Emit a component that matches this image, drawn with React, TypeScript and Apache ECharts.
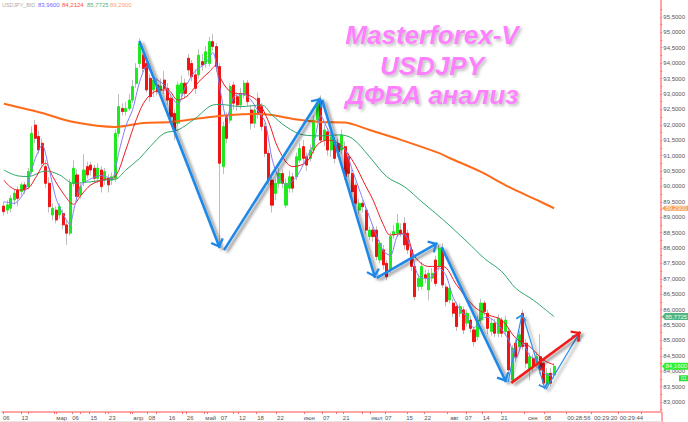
import React, { useEffect, useRef } from "react";
import * as echarts from "echarts";

const opens = [
  89.36, 89.23, 89.29, 89.56, 89.88, 89.83, 90.05, 89.99, 90.48, 91.99,
  91.62, 91.40, 90.64, 90.10, 89.07, 89.23, 89.07, 89.12, 88.75, 88.48,
  90.10, 90.37, 89.72, 90.15, 90.64, 90.69, 90.59, 90.26, 90.53, 90.20,
  90.26, 90.20, 90.26, 91.72, 92.53, 92.43, 92.53, 92.80, 93.34, 93.99,
  94.26, 93.99, 93.51, 93.13, 93.29, 93.13, 93.45, 93.18, 92.86, 92.37,
  92.05, 93.02, 93.35, 94.16, 93.99, 93.62, 93.62, 94.05, 93.99, 93.99,
  94.70, 94.54, 93.89, 90.64, 92.26, 92.15, 93.29, 92.91, 92.64, 92.96,
  93.35, 92.48, 92.05, 92.86, 92.59, 91.94, 91.07, 90.20, 89.77, 90.10,
  90.42, 89.39, 89.94, 90.31, 90.31, 90.85, 91.29, 90.96, 90.91, 91.18,
  92.15, 92.80, 91.50, 91.77, 91.18, 91.45, 91.39, 91.18, 91.29, 90.96,
  90.42, 90.04, 89.23, 89.45, 89.23, 88.37, 88.58, 88.58, 87.61, 87.94,
  87.50, 87.30, 88.42, 88.48, 88.58, 88.80, 88.48, 87.94, 87.40, 86.75,
  86.75, 87.13, 86.64, 87.02, 87.61, 87.40, 87.99, 86.73, 86.31, 86.21,
  86.10, 85.88, 85.99, 85.56, 85.66, 85.34, 85.12, 85.66, 86.21, 85.88,
  85.29, 85.56, 85.23, 85.66, 85.29, 85.29, 83.72, 84.91, 84.80, 85.88,
  84.91, 84.04, 84.42, 84.26, 84.47, 84.26, 83.56, 83.93, 83.88,
];
const closes = [
  89.18, 89.40, 89.61, 89.78, 89.61, 90.05, 89.88, 90.48, 91.72, 91.56,
  91.18, 90.75, 90.10, 89.34, 89.29, 88.91, 89.34, 88.75, 88.48, 90.10,
  90.59, 89.67, 89.99, 90.53, 90.37, 90.53, 90.26, 90.59, 89.99, 90.48,
  90.05, 90.31, 91.72, 92.59, 92.43, 92.53, 92.80, 93.24, 93.83, 94.64,
  93.83, 93.13, 92.91, 93.45, 93.07, 93.26, 93.18, 92.80, 92.26, 91.78,
  93.29, 93.35, 93.02, 93.78, 93.56, 93.18, 94.26, 93.94, 94.37, 94.70,
  94.54, 93.89, 90.75, 91.94, 91.56, 93.24, 92.70, 92.64, 93.02, 93.35,
  92.75, 92.05, 92.48, 92.37, 91.94, 91.07, 90.20, 89.39, 90.10, 90.42,
  90.10, 90.10, 90.31, 89.94, 90.96, 91.23, 90.91, 90.69, 91.18, 92.15,
  92.70, 91.50, 91.83, 91.18, 91.61, 90.91, 91.12, 91.67, 90.31, 90.42,
  89.83, 89.45, 89.45, 89.34, 88.58, 88.58, 88.37, 87.72, 88.15, 87.45,
  87.07, 88.37, 88.53, 88.80, 88.48, 88.10, 87.94, 87.40, 86.42, 87.02,
  87.40, 87.02, 87.18, 87.18, 86.85, 87.99, 86.80, 86.26, 86.69, 85.88,
  85.45, 86.10, 85.34, 85.88, 85.39, 84.96, 85.66, 86.21, 85.94, 85.39,
  85.56, 85.23, 85.72, 85.23, 85.66, 84.04, 84.75, 84.47, 85.18, 84.80,
  84.26, 84.47, 84.15, 84.47, 84.04, 83.61, 83.93, 83.61, 84.16,
];
const lows = [
  89.05, 89.10, 89.15, 89.40, 89.35, 89.70, 89.75, 89.90, 90.40, 91.40,
  91.05, 90.65, 89.95, 89.15, 88.90, 88.80, 88.95, 88.60, 88.10, 88.40,
  90.00, 89.55, 89.60, 90.00, 90.25, 90.35, 90.10, 90.10, 89.80, 90.05,
  89.80, 90.05, 90.15, 91.60, 92.30, 92.30, 92.45, 92.70, 93.20, 93.85,
  93.70, 93.05, 92.75, 92.90, 92.95, 92.95, 93.00, 92.65, 92.10, 91.50,
  91.95, 92.90, 92.85, 93.60, 93.40, 93.00, 93.50, 93.75, 93.85, 93.90,
  94.40, 93.70, 88.10, 90.40, 91.40, 92.05, 92.50, 92.45, 92.50, 92.85,
  92.60, 91.85, 91.90, 92.20, 91.80, 90.95, 90.05, 89.15, 89.55, 89.95,
  89.95, 89.30, 89.80, 89.80, 90.20, 90.75, 90.75, 90.50, 90.80, 91.05,
  92.05, 91.40, 91.30, 91.00, 90.95, 90.75, 90.95, 91.05, 90.20, 90.30,
  89.70, 89.30, 89.10, 89.15, 88.45, 88.25, 88.20, 87.60, 87.50, 87.30,
  86.95, 87.20, 88.30, 88.35, 88.35, 87.95, 87.80, 87.25, 86.30, 86.60,
  86.65, 86.85, 86.30, 86.90, 86.75, 87.25, 86.70, 86.10, 86.20, 85.75,
  85.30, 85.75, 85.20, 85.45, 85.25, 84.80, 85.00, 85.55, 85.80, 85.20,
  85.15, 85.10, 85.10, 85.10, 85.15, 83.90, 83.65, 84.30, 84.65, 84.70,
  84.10, 83.70, 84.00, 84.10, 83.90, 83.50, 83.40, 83.50, 83.75,
];
const highs = [
  89.50, 89.55, 89.72, 89.90, 90.00, 90.12, 90.15, 90.60, 91.95, 92.15,
  91.80, 91.55, 90.85, 90.30, 89.45, 89.35, 89.45, 89.25, 88.90, 90.25,
  90.85, 90.55, 90.10, 91.05, 90.80, 90.80, 90.70, 90.75, 90.65, 90.60,
  90.40, 90.45, 91.85, 93.00, 92.70, 92.75, 93.00, 93.45, 94.00, 94.80,
  94.40, 94.15, 93.65, 93.60, 93.45, 93.50, 93.75, 93.35, 93.00, 92.50,
  93.40, 93.60, 93.50, 94.30, 94.10, 93.80, 94.45, 94.30, 94.55, 94.85,
  94.95, 94.65, 94.00, 92.10, 92.40, 93.35, 93.40, 93.05, 93.20, 93.45,
  93.45, 92.65, 92.65, 93.05, 92.70, 92.05, 91.20, 90.35, 90.25, 90.60,
  90.55, 90.25, 90.50, 90.45, 91.10, 91.40, 91.50, 91.10, 91.35, 92.30,
  92.85, 92.95, 92.00, 91.90, 91.75, 91.60, 91.55, 91.85, 91.45, 91.10,
  90.55, 90.15, 89.60, 89.55, 89.35, 88.70, 88.70, 88.70, 88.25, 88.10,
  87.60, 88.50, 88.75, 89.10, 88.80, 89.00, 88.60, 88.05, 87.50, 87.15,
  87.55, 87.30, 87.30, 87.35, 87.75, 88.10, 88.15, 86.85, 86.80, 86.35,
  86.25, 86.20, 86.10, 86.00, 85.80, 85.45, 85.80, 86.35, 86.30, 86.00,
  85.70, 85.70, 85.85, 85.75, 85.80, 85.40, 84.85, 85.05, 85.30, 86.00,
  85.05, 84.60, 84.55, 84.60, 85.20, 84.40, 84.10, 84.10, 84.25,
];

const orangeBars = [0, 11, 20, 32, 40, 48, 57, 65, 74, 83, 91, 98, 105, 114, 125, 128, 137, 145, 153, 158];
const orangeValues = [92.68, 92.38, 92.09, 91.93, 92.06, 92.09, 92.22, 92.32, 92.35, 92.19, 92.09, 92.07, 91.83, 91.51, 91.08, 90.92, 90.47, 89.98, 89.56, 89.29];

const greenBars = [0, 4, 7, 12, 16, 20, 25, 29, 32, 35, 39, 42, 46, 50, 55, 60, 62, 68, 74, 77, 81, 86, 91, 96, 100, 105, 110, 115, 120, 126, 133, 138, 143, 147, 152, 158];
const greenValues = [90.53, 90.34, 90.32, 90.50, 90.37, 90.10, 90.15, 90.21, 90.23, 90.53, 90.91, 91.29, 91.72, 91.83, 92.21, 92.64, 92.66, 92.59, 92.64, 92.32, 91.94, 91.67, 91.64, 91.67, 91.56, 90.96, 90.31, 89.99, 89.50, 88.93, 88.20, 87.66, 87.23, 86.69, 86.31, 85.77];

const redBars = [0, 2, 4, 7, 9, 12, 14, 17, 20, 22, 25, 29, 32, 35, 38, 41, 45, 47, 50, 53, 56, 59, 61, 62, 65, 70, 73, 76, 79, 83, 87, 90, 93, 96, 100, 104, 106, 109, 111, 115, 118, 122, 126, 130, 135, 139, 143, 147, 151, 155, 158];
const redValues = [90.20, 89.97, 89.88, 89.94, 90.26, 90.75, 90.32, 89.78, 89.42, 89.69, 90.05, 90.23, 90.32, 91.18, 92.16, 92.85, 93.13, 93.13, 92.80, 92.97, 93.40, 93.72, 93.94, 93.56, 93.08, 92.97, 92.75, 92.10, 91.18, 90.64, 90.80, 91.35, 91.50, 91.40, 90.86, 89.99, 89.56, 88.75, 88.42, 88.48, 87.72, 87.40, 87.40, 86.80, 86.10, 85.83, 85.66, 85.07, 84.80, 84.36, 84.21];

const blueBars = [0, 3, 6, 9, 11, 13, 15, 17, 19, 20, 22, 25, 28, 31, 33, 35, 37, 39, 41, 43, 46, 48, 50, 52, 55, 58, 60, 62, 64, 66, 69, 71, 73, 75, 77, 79, 81, 84, 87, 89, 91, 93, 96, 98, 100, 103, 105, 107, 109, 111, 113, 115, 117, 119, 122, 125, 127, 129, 131, 133, 135, 137, 139, 142, 145, 147, 149, 151, 153, 155, 157, 158];
const blueValues = [89.50, 89.45, 89.85, 90.90, 91.35, 90.55, 89.60, 89.10, 88.75, 89.20, 90.00, 90.25, 90.35, 90.25, 91.10, 91.95, 92.50, 93.40, 93.90, 93.55, 93.30, 92.95, 92.65, 93.20, 93.75, 94.00, 94.35, 93.20, 92.20, 92.90, 93.00, 92.80, 92.45, 92.10, 90.90, 90.25, 90.05, 90.30, 90.95, 91.40, 92.30, 91.85, 91.35, 91.20, 90.55, 89.60, 89.00, 88.40, 87.90, 87.75, 88.40, 88.45, 87.90, 87.10, 87.00, 87.35, 87.10, 86.40, 86.00, 85.75, 85.40, 85.70, 85.75, 85.50, 85.00, 84.40, 84.90, 84.50, 84.35, 83.95, 83.85, 83.96];

const thickArrows = [
  [[39.4, 94.72], [62.5, 88.0]],
  [[63.7, 87.93], [91.4, 92.87]],
  [[91.9, 92.81], [107.1, 87.03]],
  [[107.6, 87.03], [125.0, 88.16]],
  [[126.2, 88.03], [144.7, 83.65]],
];
const redArrow = [[[146.2, 83.62], [166.1, 85.27]]];
const thinArrows = [
  [[145.3, 83.65], [149.3, 85.86]],
  [[149.6, 85.79], [155.9, 83.42]],
  [[156.2, 83.42], [165.6, 85.21]],
];
const dottedLevel = [[161.9, 85.63], [175.4, 85.63]];

const yLabelValues = [83, 83.5, 84, 84.5, 85, 85.5, 86, 86.5, 87, 87.5, 88, 88.5, 89, 89.5, 90, 90.5, 91, 91.5, 92, 92.5, 93, 93.5, 94, 94.5, 95, 95.5];
const yTickValues = [82.75, 83, 83.25, 83.5, 83.75, 84, 84.25, 84.5, 84.75, 85, 85.25, 85.5, 85.75, 86, 86.25, 86.5, 86.75, 87, 87.25, 87.5, 87.75, 88, 88.25, 88.5, 88.75, 89, 89.25, 89.5, 89.75, 90, 90.25, 90.5, 90.75, 91, 91.25, 91.5, 91.75, 92, 92.25, 92.5, 92.75, 93, 93.25, 93.5, 93.75, 94, 94.25, 94.5, 94.75, 95, 95.25, 95.5, 95.75];

const xTickLabels = ["06", "13", "мар", "06", "15", "23", "апр", "08", "16", "26", "май", "07", "12", "18", "22", "июн", "07", "21", "июл", "07", "15", "22", "авг", "07", "14", "21", "сен", "08", "00:28:56", "00:29:20", "00:29:44"];
const xLabelBars = [1.2, 6.5, 17.1, 21.1, 26.3, 31.6, 39.1, 43.0, 48.8, 54.0, 59.9, 63.7, 69.0, 74.2, 79.9, 88.2, 93.1, 98.8, 107.6, 110.9, 117.0, 122.2, 129.9, 133.9, 139.0, 144.2, 152.4, 156.7, 165.6, 173.3, 180.7];
const xTickBars = [0.3, 5.4, 7.4, 15.1, 15.4, 20, 22.3, 25.1, 29.7, 30.5, 36.8, 37.4, 41.7, 44.2, 51.7, 52.8, 57.9, 58.8, 66.5, 67.9, 73.1, 78.8, 86.8, 91.9, 95.9, 97.9, 103.3, 105.6, 109.9, 116.2, 121.3, 127.9, 133.3, 137.9, 143.3, 149.9, 155.6, 162.1, 169.3, 177, 183.6];

const instrument = "USDJPY_BID";
const legendValues = ["83,9600", "84,2124", "85,7725", "89,2900"];
const titleLines = ["Masterforex-V", "USDJPY", "ДФВА анализ"];
const priceTags = [
  { value: 89.29, text: "89,2900", fill: "#ff9a5c" },
  { value: 85.7725, text: "85,7725", fill: "#4fb583" },
  { value: 84.16, text: "84,1600", fill: "#2ff02f" },
];

const SLOTS = 189;
const FONT = '"Liberation Sans", Arial, sans-serif';
const AXIS = "#ff8a8a";

const pairs = (bars: number[], vals: number[]) => bars.map((b, i) => [b + 0.5, vals[i]]);

const ARROW = "path://M-12,-12L-12,-12ZM12,12L12,12ZM0,0L10,10L7.5,12L0,4.5L-7.5,12L-10,10Z";

const arrowSeries = (arrows: number[][][], color: string, width: number, size: number, z: number) => ({
  type: "lines",
  coordinateSystem: "cartesian2d",
  xAxisIndex: 1,
  yAxisIndex: 0,
  polyline: false,
  z,
  silent: true,
  symbol: ["none", ARROW],
  symbolSize: size,
  lineStyle: {
    color,
    width,
    opacity: 1,
    curveness: 0,
    shadowColor: "rgba(0,0,0,0.45)",
    shadowBlur: 3,
    shadowOffsetX: 3,
    shadowOffsetY: 2,
  },
  data: arrows.map((coords) => ({ coords })),
});

const lineSeries = (data: number[][], color: string, width: number, z: number, smooth = 0.35) => ({
  type: "line",
  xAxisIndex: 1,
  yAxisIndex: 0,
  data,
  smooth,
  showSymbol: false,
  symbol: "none",
  silent: true,
  z,
  lineStyle: { color, width },
});

export default function App() {
  const ref = useRef<HTMLDivElement>(null);
  useEffect(() => {
    document.body.style.margin = "0";
    const chart = echarts.init(ref.current!, undefined, { renderer: "svg" });
    const option: any = {
      animation: false,
      backgroundColor: "#ffffff",
      grid: { left: 0, top: 0, width: 662, height: 412, containLabel: false },
      xAxis: [
        {
          type: "category",
          data: Array.from({ length: SLOTS }, (_, i) => String(i)),
          show: false,
          boundaryGap: true,
        },
        {
          type: "value",
          min: 0,
          max: SLOTS,
          position: "bottom",
          splitLine: { show: false },
          axisLine: { show: true, onZero: false, lineStyle: { color: AXIS, width: 1.5 } },
          axisTick: {
            show: true,
            inside: false,
            length: 2,
            customValues: xTickBars,
            lineStyle: { color: "#ff6a6a", width: 1 },
          },
          axisLabel: {
            show: true,
            margin: 3,
            fontSize: 6,
            fontFamily: FONT,
            color: "#555",
            customValues: xLabelBars,
            formatter: (v: number) => {
              let best = 0;
              xLabelBars.forEach((b, i) => {
                if (Math.abs(b - v) < Math.abs(xLabelBars[best] - v)) best = i;
              });
              return xTickLabels[best];
            },
          },
        },
      ],
      yAxis: [
        {
          type: "value",
          min: 82.675,
          max: 96.05,
          position: "right",
          scale: true,
          splitLine: { show: false },
          axisLine: { show: true, onZero: false, lineStyle: { color: AXIS, width: 1.5 } },
          axisTick: { show: true, length: 2, customValues: yTickValues, lineStyle: { color: "#ff7a7a" } },
          axisLabel: {
            show: true,
            margin: 3,
            fontSize: 6,
            fontFamily: FONT,
            color: "#555",
            customValues: yLabelValues,
            formatter: (v: number) => v.toFixed(4).replace(".", ","),
          },
        },
      ],
      series: [
        {
          type: "candlestick",
          xAxisIndex: 0,
          yAxisIndex: 0,
          barWidth: 1,
          silent: true,
          z: 2,
          itemStyle: { color: "#bdbdbd", color0: "#bdbdbd", borderColor: "#bdbdbd", borderColor0: "#bdbdbd", borderWidth: 1 },
          data: opens.map((o, i) => [o, closes[i], lows[i], highs[i]]),
        },
        {
          type: "candlestick",
          xAxisIndex: 0,
          yAxisIndex: 0,
          barWidth: 2.6,
          silent: true,
          z: 3,
          itemStyle: { color: "#22e822", color0: "#f01414", borderColor: "#22e822", borderColor0: "#f01414", borderWidth: 1 },
          data: opens.map((o, i) => [o, closes[i], Math.min(o, closes[i]), Math.max(o, closes[i])]),
        },
        lineSeries(pairs(orangeBars, orangeValues), "#ff6a1a", 2, 4, 0.3),
        lineSeries(pairs(greenBars, greenValues), "#2fa76a", 1, 5),
        lineSeries(pairs(redBars, redValues), "#ee1c25", 1, 6),
        lineSeries(pairs(blueBars, blueValues), "#7f7ff5", 1, 7, 0.25),
        arrowSeries(thickArrows, "#1e88e8", 2.6, 17, 8),
        arrowSeries(thinArrows, "#2a90ea", 1.2, 13, 8),
        arrowSeries(redArrow, "#f01c1c", 2.6, 17, 9),
        {
          type: "line",
          xAxisIndex: 1,
          yAxisIndex: 0,
          data: dottedLevel,
          showSymbol: false,
          symbol: "none",
          silent: true,
          z: 8,
          lineStyle: {
            color: "#38e038",
            width: 2,
            type: [2, 2],
            shadowColor: "rgba(0,0,0,0.3)",
            shadowBlur: 3,
            shadowOffsetX: 2,
            shadowOffsetY: 2,
          },
        },
      ],
    };
    chart.setOption(option);

    const toY = (v: number) => chart.convertToPixel({ yAxisIndex: 0 }, v) as number;
    const elements: any[] = [];
    const legendColors = ["#6a6aff", "#ff4a4a", "#58b488", "#ffa27a"];
    const legendXs = [38, 62, 87, 110];
    elements.push({
      type: "text",
      x: 2,
      y: 2,
      style: { text: instrument, fill: "#adadad", font: `5.4px ${FONT}` },
    });
    legendValues.forEach((t, i) =>
      elements.push({
        type: "text",
        x: legendXs[i],
        y: 2,
        style: { text: t, fill: legendColors[i], font: `6px ${FONT}` },
      })
    );
    const titleYs = [35, 66, 95];
    titleLines.forEach((t, i) =>
      elements.push({
        type: "text",
        x: 432,
        y: titleYs[i],
        z: 20,
        style: {
          text: t,
          fill: "#ff80ff",
          font: `italic bold 26px ${FONT}`,
          align: "center",
          verticalAlign: "middle",
          textShadowColor: "rgba(130,130,130,0.5)",
          textShadowBlur: 3,
          textShadowOffsetX: 2,
          textShadowOffsetY: 2,
        },
      })
    );
    priceTags.forEach((tag) => {
      const y = toY(tag.value);
      const h = tag.value === 89.29 ? 5 : 7;
      elements.push({
        type: "polygon",
        z: 20,
        shape: { points: [[662, y], [665, y - h / 2], [688, y - h / 2], [688, y + h / 2], [665, y + h / 2]] },
        style: { fill: tag.fill },
      });
      elements.push({
        type: "text",
        x: 665.5,
        y: y,
        z: 21,
        style: { text: tag.text, fill: "#e8ffe8", font: `6px ${FONT}`, verticalAlign: "middle" },
      });
    });
    const belowLast = toY(84.16) + 12;
    elements.push({ type: "rect", z: 20, shape: { x: 679, y: belowLast - 3, width: 9, height: 6 }, style: { fill: "#2fe02f" } });
    elements.push({
      type: "text",
      x: 681,
      y: belowLast,
      z: 21,
      style: { text: "01", fill: "#e8ffe8", font: `5px ${FONT}`, verticalAlign: "middle" },
    });
    elements.push({ type: "line", z: 5, shape: { x1: 662, y1: 412, x2: 662, y2: 422 }, style: { stroke: AXIS, lineWidth: 1.5 } });
    elements.push({ type: "line", z: 5, shape: { x1: 0, y1: 421.5, x2: 662, y2: 421.5 }, style: { stroke: "#e6e6e6", lineWidth: 1 } });
    chart.setOption({ graphic: elements });

    return () => chart.dispose();
  }, []);
  return <div ref={ref} style={{ position: "fixed", left: 0, top: 0, width: 688, height: 422 }} />;
}
